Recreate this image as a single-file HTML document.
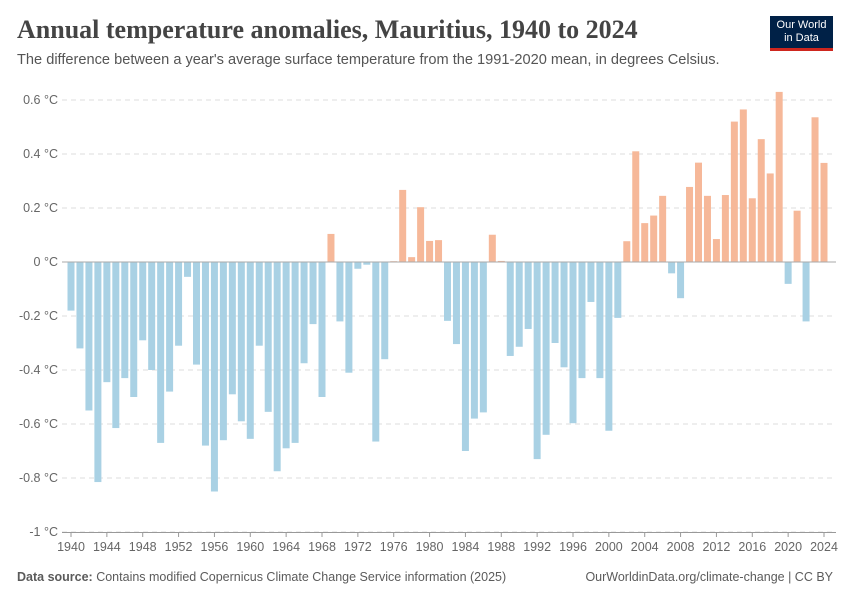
<!DOCTYPE html>
<html><head><meta charset="utf-8"><style>
body{margin:0;background:#fff;width:850px;height:600px;overflow:hidden;font-family:"Liberation Sans",sans-serif}
#title{position:absolute;left:17px;top:15px;font-family:"Liberation Serif",serif;font-size:26px;font-weight:bold;letter-spacing:0px;color:#444}
#sub{position:absolute;left:17px;top:52px;font-size:14.6px;color:#555}
#logo{position:absolute;left:770px;top:16px;width:63px;height:35px;background:#002147;border-bottom:3px solid #ce261e;color:#fff;font-size:11px;text-align:center;line-height:13px;padding-top:3px;box-sizing:border-box}
#foot{position:absolute;top:570px;font-size:12.5px;color:#5b5b5b}
</style></head><body>
<div id="title">Annual temperature anomalies, Mauritius, 1940 to 2024</div>
<div id="sub">The difference between a year's average surface temperature from the 1991-2020 mean, in degrees Celsius.</div>
<div id="logo">Our World<br>in Data</div>
<svg id="chart" width="850" height="600" style="position:absolute;left:0;top:0"></svg>
<div id="foot" style="left:17px"><b>Data source:</b> Contains modified Copernicus Climate Change Service information (2025)</div>
<div id="foot2" style="position:absolute;top:570px;right:17px;font-size:12.5px;color:#5b5b5b">OurWorldinData.org/climate-change | CC BY</div>
<script>
const startYear = 1940;
const values = [-0.18,-0.32,-0.55,-0.815,-0.445,-0.615,-0.43,-0.50,-0.29,-0.40,-0.67,-0.48,-0.31,-0.055,-0.38,-0.68,-0.85,-0.66,-0.49,-0.59,-0.655,-0.31,-0.555,-0.775,-0.69,-0.67,-0.375,-0.23,-0.50,0.104,-0.22,-0.41,-0.025,-0.01,-0.665,-0.36,0.003,0.267,0.018,0.203,0.078,0.081,-0.218,-0.304,-0.70,-0.58,-0.557,0.101,0.004,-0.348,-0.314,-0.248,-0.73,-0.64,-0.30,-0.39,-0.597,-0.43,-0.148,-0.43,-0.625,-0.207,0.077,0.41,0.144,0.172,0.245,-0.042,-0.134,0.278,0.368,0.245,0.085,0.248,0.52,0.565,0.236,0.455,0.328,0.63,-0.081,0.19,-0.22,0.536,0.367];
const yTicks = [0.6,0.4,0.2,0,-0.2,-0.4,-0.6,-0.8,-1];
const yTickLabels = ["0.6 °C","0.4 °C","0.2 °C","0 °C","-0.2 °C","-0.4 °C","-0.6 °C","-0.8 °C","-1 °C"];
const xTickYears = [1940,1944,1948,1952,1956,1960,1964,1968,1972,1976,1980,1984,1988,1992,1996,2000,2004,2008,2012,2016,2020,2024];
const svg = document.getElementById('chart');
const NS = 'http://www.w3.org/2000/svg';
const x = yr => 71 + (yr - 1940) * (824 - 71) / 84;
const y = v => 262 - v * 270;
function mk(tag, attrs){const e=document.createElementNS(NS,tag);for(const k in attrs)e.setAttribute(k,attrs[k]);svg.appendChild(e);return e;}
yTicks.forEach((t,i)=>{
  if(t!==0){const g=mk('line',{x1:62,x2:836,y1:y(t),y2:y(t),stroke:'#ddd','stroke-dasharray':'5,4'});
  
  }
  const l=mk('text',{x:58,y:y(t)+4,'text-anchor':'end','font-size':12.5,fill:'#666','font-family':'Liberation Sans, sans-serif'});
  l.textContent=yTickLabels[i];
  
  
});
values.forEach((v,i)=>{
  const yr=startYear+i;
  const r=mk('rect',{x:x(yr)-3.5,width:7,y:Math.min(y(v),y(0)),height:Math.abs(y(v)-y(0)),fill:v>=0?'#f6b899':'#a9d1e4'});
  
  
});
const z=mk('line',{x1:62,x2:836,y1:y(0),y2:y(0),stroke:'#aaa','stroke-width':1});


const ax=mk('line',{x1:62,x2:836,y1:y(-1)+0.5,y2:y(-1)+0.5,stroke:'#999'});


xTickYears.forEach(yr=>{
  const tk=mk('line',{x1:x(yr),x2:x(yr),y1:y(-1),y2:y(-1)+5,stroke:'#999'});
  
  
  const t=mk('text',{x:x(yr),y:y(-1)+19,'text-anchor':'middle','font-size':12.5,fill:'#666','font-family':'Liberation Sans, sans-serif'});
  t.textContent=yr;
  
  
});
</script>
</body></html>
